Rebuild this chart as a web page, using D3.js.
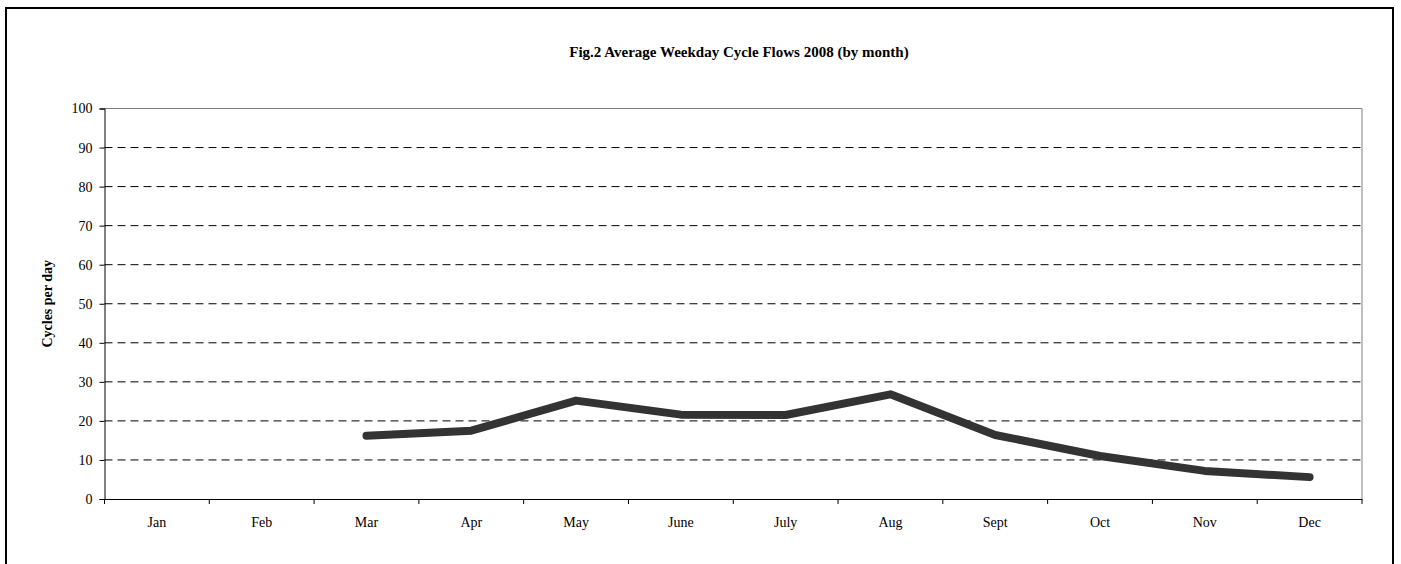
<!DOCTYPE html>
<html lang="en">
<head>
<meta charset="utf-8">
<title>Average Weekday Cycle Flows 2008</title>
<script src="https://d3js.org/d3.v7.min.js"></script>
<style>
  body { margin: 0; background: #fff; }
  text { font-family: "Liberation Serif", "Times New Roman", serif; fill: #000; }
</style>
</head>
<body>
<script>
// data
var months = ["Jan", "Feb", "Mar", "Apr", "May", "June", "July", "Aug", "Sept", "Oct", "Nov", "Dec"];
var flows = [null, null, 16.2, 17.5, 25.2, 21.6, 21.5, 26.8, 16.4, 11.0, 7.2, 5.6];
var yTicks = [0, 10, 20, 30, 40, 50, 60, 70, 80, 90, 100];

var width = 1401,
    height = 564;

var plot = { left: 104.5, right: 1362, top: 108.5, bottom: 499 };

var svg = d3.select("body").append("svg")
    .attr("width", width)
    .attr("height", height);

// outer chart border
svg.append("rect")
    .attr("x", 6).attr("y", 8)
    .attr("width", 1387).attr("height", 570)
    .attr("fill", "none")
    .attr("stroke", "#000")
    .attr("stroke-width", 2);

var x = d3.scaleBand()
    .domain(months)
    .range([plot.left, plot.right]);

var y = d3.scaleLinear()
    .domain([0, 100])
    .range([plot.bottom, plot.top]);

// dashed gridlines
svg.append("g")
    .selectAll("line")
    .data(yTicks.filter(function(d) { return d > 0; }))
    .enter().append("line")
    .attr("x1", plot.left).attr("x2", plot.right)
    .attr("y1", function(d) { return y(d); })
    .attr("y2", function(d) { return y(d); })
    .attr("stroke", "#000")
    .attr("stroke-width", 1)
    .attr("stroke-dasharray", "8,5");

// plot area border (top and right), grey
svg.append("path")
    .attr("d", "M" + plot.left + "," + plot.top + "H" + plot.right + "V" + plot.bottom)
    .attr("fill", "none")
    .attr("stroke", "#808080")
    .attr("stroke-width", 1);

// y axis
var yAxis = svg.append("g")
    .attr("transform", "translate(" + plot.left + ",0)")
    .call(d3.axisLeft(y).tickValues(yTicks).tickSize(5).tickPadding(7));
yAxis.select(".domain").attr("stroke", "#000");
yAxis.selectAll("text").style("font-size", "14px").style("font-family", "Liberation Serif");

// x axis, ticks between categories
var xAxis = svg.append("g")
    .attr("transform", "translate(0," + plot.bottom + ")")
    .call(d3.axisBottom(x).tickSize(0).tickPadding(18));
xAxis.select(".domain").attr("stroke", "#000");
xAxis.selectAll("text").style("font-size", "14px").style("font-family", "Liberation Serif");

var bounds = months.map(function(m) { return x(m); }).concat([plot.right]);
xAxis.selectAll(".sep")
    .data(bounds)
    .enter().append("line")
    .attr("class", "sep")
    .attr("x1", function(d) { return d; })
    .attr("x2", function(d) { return d; })
    .attr("y1", 0).attr("y2", 5)
    .attr("stroke", "#000");

// series line
var line = d3.line()
    .defined(function(d) { return d != null; })
    .x(function(d, i) { return x(months[i]) + x.bandwidth() / 2; })
    .y(function(d) { return y(d); });

svg.append("path")
    .datum(flows)
    .attr("d", line)
    .attr("fill", "none")
    .attr("stroke", "#333333")
    .attr("stroke-width", 8)
    .attr("stroke-linejoin", "round")
    .attr("stroke-linecap", "round");

// title
svg.append("text")
    .attr("x", 739).attr("y", 57)
    .attr("text-anchor", "middle")
    .style("font-size", "15px")
    .style("font-weight", "bold")
    .text("Fig.2 Average Weekday Cycle Flows 2008 (by month)");

// y axis label
svg.append("text")
    .attr("transform", "translate(52," + ((plot.top + plot.bottom) / 2) + ") rotate(-90)")
    .attr("text-anchor", "middle")
    .style("font-size", "14px")
    .style("font-weight", "bold")
    .text("Cycles per day");
</script>
</body>
</html>
